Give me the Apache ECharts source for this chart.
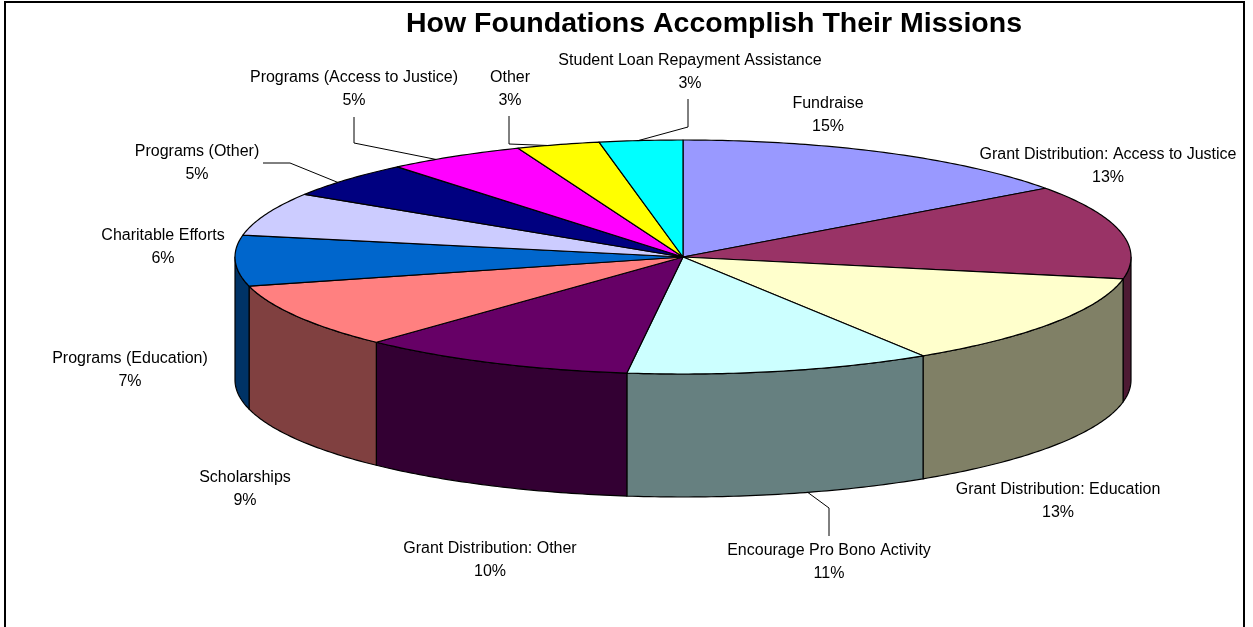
<!DOCTYPE html>
<html>
<head>
<meta charset="utf-8">
<script src="https://cdn.jsdelivr.net/npm/echarts@6/dist/echarts.min.js"></script>
<style>
  html, body { margin: 0; padding: 0; background: #ffffff; }
  #chart { width: 1253px; height: 627px; }
</style>
</head>
<body>
<div id="chart"></div>
<script>
// Slices, clockwise from 12 o'clock
const categories = [
  'Fundraise',
  'Grant Distribution: Access to Justice',
  'Grant Distribution: Education',
  'Encourage Pro Bono Activity',
  'Grant Distribution: Other',
  'Scholarships',
  'Programs (Education)',
  'Charitable Efforts',
  'Programs (Other)',
  'Programs (Access to Justice)',
  'Other',
  'Student Loan Repayment Assistance'
];
const shares = [15, 13, 13, 11, 10, 9, 7, 6, 5, 5, 3, 3];

// Face colours and the darker wall colours
const topColors  = ['#9999FF', '#993366', '#FFFFCC', '#CCFFFF', '#660066', '#FF8080',
                    '#0066CC', '#CCCCFF', '#000080', '#FF00FF', '#FFFF00', '#00FFFF'];
const sideColors = ['#4D4D80', '#4D1A33', '#808066', '#668080', '#330033', '#804040',
                    '#003366', '#666680', '#000040', '#800080', '#808000', '#008080'];

// Label centres, as offsets from the pie centre (px)
const labelOffsets = [
  [145, -141.5], [425, -91], [375, 244.5], [146, 305], [-193, 303], [-438, 232.5],
  [-553, 113], [-520, -10], [-486, -94], [-329, -167.5], [-173, -167.5], [7, -184.5]
];
// Leader line elbows (offsets from the pie centre); the line then runs to the slice rim
// at the given fraction of the slice's sweep
const leaderElbows = {
  3: { pts: [[146, 279], [146, 251]], at: 0.41, bottom: true },
  8: { pts: [[-420, -94], [-393, -94]], at: 0.4 },
  9: { pts: [[-329, -140], [-329, -114]], at: 0.34 },
  10: { pts: [[-174, -141], [-174, -113]], at: 0.37 },
  11: { pts: [[5, -158], [5, -130]], at: 0.47 }
};

const PIE_CX = 683, PIE_CY = 257, PIE_RX = 448;
const TILT = 117 / 448;   // vertical squash of the top face
const DEPTH = 123;        // height of the cylinder wall
const LABEL_FONT = 'Liberation Sans, Arial, sans-serif';

// cumulative [start, end] percentages per slice
const sliceData = [];
let acc = 0;
shares.forEach(function (v, i) {
  sliceData.push([acc, acc + v, i]);
  acc += v;
});

function renderSlice(params, api) {
  const cs = params.coordSys;
  const cx = cs.cx, cy = cs.cy;
  const a = api.value(0), b = api.value(1), idx = api.value(2);

  function rim(pct, drop) {
    const p = api.coord([1, pct]);
    return [p[0], cy + (p[1] - cy) * TILT + (drop || 0)];
  }
  function arc(from, to, drop) {
    const pts = [];
    const steps = Math.max(2, Math.ceil((to - from) / 0.2));
    for (let k = 0; k <= steps; k++) pts.push(rim(from + (to - from) * k / steps, drop));
    return pts;
  }

  const children = [];

  // front wall (visible between 3 o'clock and 9 o'clock)
  const wa = Math.max(a, 25), wb = Math.min(b, 75);
  if (wb > wa) {
    const upper = arc(wa, wb, 0);
    const lower = arc(wa, wb, DEPTH).reverse();
    children.push({
      type: 'polygon',
      z2: 1,
      shape: { points: upper.concat(lower) },
      style: { fill: sideColors[idx], stroke: '#000000', lineWidth: 1.2, lineJoin: 'round' }
    });
  }

  // top face
  children.push({
    type: 'polygon',
    z2: 2,
    shape: { points: [[cx, cy]].concat(arc(a, b, 0)) },
    style: { fill: topColors[idx], stroke: '#000000', lineWidth: 1.2, lineJoin: 'round' }
  });

  // leader line
  const lead = leaderElbows[idx];
  if (lead) {
    const pct = a + (b - a) * lead.at;
    const pts = lead.pts.map(function (o) { return [cx + o[0], cy + o[1]]; });
    pts.push(rim(pct, lead.bottom ? DEPTH : 0));
    children.push({
      type: 'polyline',
      z2: 3,
      shape: { points: pts },
      style: { stroke: '#000000', lineWidth: 1, fill: null }
    });
  }

  // label: name and share
  const off = labelOffsets[idx];
  children.push({
    type: 'text',
    z2: 4,
    x: cx + off[0],
    y: cy + off[1],
    style: {
      text: categories[idx] + '\n' + shares[idx] + '%',
      fontFamily: LABEL_FONT,
      fontSize: 16,
      lineHeight: 23,
      fill: '#000000',
      align: 'center',
      verticalAlign: 'middle'
    }
  });

  return { type: 'group', children: children };
}

const chart = echarts.init(document.getElementById('chart'), null, { renderer: 'canvas' });
chart.setOption({
  animation: false,
  backgroundColor: '#ffffff',
  title: {
    text: 'How Foundations Accomplish Their Missions',
    left: 709,
    top: 5,
    textAlign: 'center',
    textStyle: {
      fontFamily: 'Liberation Sans, Arial, sans-serif',
      fontWeight: 'bold',
      fontSize: 28.5,
      color: '#000000'
    }
  },
  polar: { center: [PIE_CX, PIE_CY], radius: PIE_RX },
  angleAxis: {
    type: 'value', min: 0, max: 100, startAngle: 90, clockwise: true,
    show: false, splitLine: { show: false }
  },
  radiusAxis: { type: 'value', min: 0, max: 1, show: false, splitLine: { show: false } },
  graphic: [{
    type: 'rect',
    silent: true,
    shape: { x: 5, y: 2, width: 1239, height: 700 },
    style: { fill: null, stroke: '#000000', lineWidth: 2 }
  }],
  series: [{
    type: 'custom',
    coordinateSystem: 'polar',
    renderItem: renderSlice,
    data: sliceData,
    silent: true
  }]
});
</script>
</body>
</html>
